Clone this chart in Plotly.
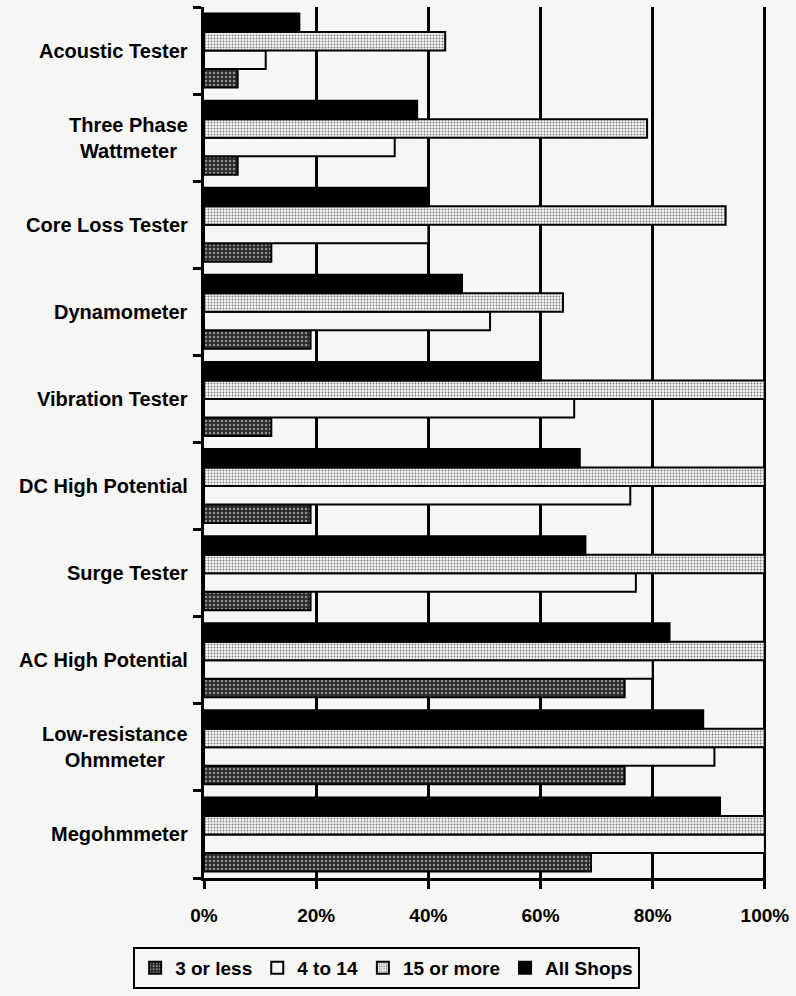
"""Test equipment ownership by shop size - horizontal grouped bars."""

import plotly.graph_objects as go

# ---------------------------------------------------------------------------
# Data (top to bottom as drawn)
# ---------------------------------------------------------------------------

CATEGORIES = [
    "Acoustic Tester",
    "Three Phase Wattmeter",
    "Core Loss Tester",
    "Dynamometer",
    "Vibration Tester",
    "DC High Potential",
    "Surge Tester",
    "AC High Potential",
    "Low-resistance Ohmmeter",
    "Megohmmeter",
]
LABELS = [
    "Acoustic Tester",
    "Three Phase<br>Wattmeter",
    "Core Loss Tester",
    "Dynamometer",
    "Vibration Tester",
    "DC High Potential",
    "Surge Tester",
    "AC High Potential",
    "Low-resistance<br>Ohmmeter",
    "Megohmmeter",
]
THREE_OR_LESS = [6, 6, 12, 19, 12, 19, 19, 75, 75, 69]
FOUR_TO_14 = [11, 34, 40, 51, 66, 76, 77, 80, 91, 100]
FIFTEEN_PLUS = [43, 79, 93, 64, 100, 100, 100, 100, 100, 100]
ALL_SHOPS = [17, 38, 40, 46, 60, 67, 68, 83, 89, 92]

X_TICKS = [0, 0.2, 0.4, 0.6, 0.8, 1.0]

# ---------------------------------------------------------------------------
# Style
# ---------------------------------------------------------------------------

BG = "#f6f6f4"
INK = "#000000"
FAMILY = "Liberation Sans, Arial, sans-serif"
FONT = dict(family=FAMILY, color=INK, size=20, weight="bold")

SERIES = [
    ("3 or less", THREE_OR_LESS,
     dict(color="#3a3a3a", pattern=dict(shape=".", fgcolor=BG, bgcolor="#2a2a2a", size=4, solidity=0.3))),
    ("4 to 14", FOUR_TO_14, dict(color=BG)),
    ("15 or more", FIFTEEN_PLUS,
     dict(color=BG, pattern=dict(shape=".", fgcolor=INK, bgcolor=BG, size=3, solidity=0.3))),
    ("All Shops", ALL_SHOPS, dict(color=INK)),
]

fig = go.Figure()
for name, vals, marker in SERIES:
    fig.add_trace(go.Bar(
        y=CATEGORIES, x=[v / 100 for v in vals], name=name, orientation="h",
        marker=dict(line=dict(color=INK, width=2), **marker),
    ))

# centred two-line category labels
for cat, lab in zip(CATEGORIES, LABELS):
    fig.add_annotation(
        x=0, xref="paper", y=cat, yref="y", text=lab, showarrow=False,
        xanchor="right", xshift=-14, align="center", font=FONT,
    )

fig.update_layout(
    width=796, height=996,
    paper_bgcolor=BG, plot_bgcolor=BG,
    font=FONT,
    margin=dict(l=204, r=26, t=7, b=113),
    barmode="group", bargap=0.15, bargroupgap=0,
    showlegend=True,
    legend=dict(
        orientation="h", x=0.325, xanchor="center", y=-0.079, yanchor="top",
        bordercolor=INK, borderwidth=2, bgcolor=BG,
        font=dict(size=19, family=FAMILY, weight="bold"),
        traceorder="normal", itemwidth=30,
    ),
    xaxis=dict(
        range=[0, 1.002], tickvals=X_TICKS, tickformat=".0%",
        showgrid=True, gridcolor=INK, gridwidth=3, zeroline=False,
        showline=True, linecolor=INK, linewidth=3,
        ticks="outside", ticklen=8, tickwidth=3, tickcolor=INK,
        ticklabelstandoff=10, tickfont=dict(size=19),
    ),
    yaxis=dict(
        categoryorder="array", categoryarray=CATEGORIES[::-1],
        showticklabels=False, showgrid=False, zeroline=False,
        showline=True, linecolor=INK, linewidth=3,
        ticks="outside", tickson="boundaries", ticklen=8, tickwidth=3, tickcolor=INK,
    ),
)

# drop the default body margin so the figure fills the window
fig.write_html(
    "out.html",
    config={"displayModeBar": False},
    post_script="document.body.style.margin='0';document.body.style.overflow='hidden';",
)
